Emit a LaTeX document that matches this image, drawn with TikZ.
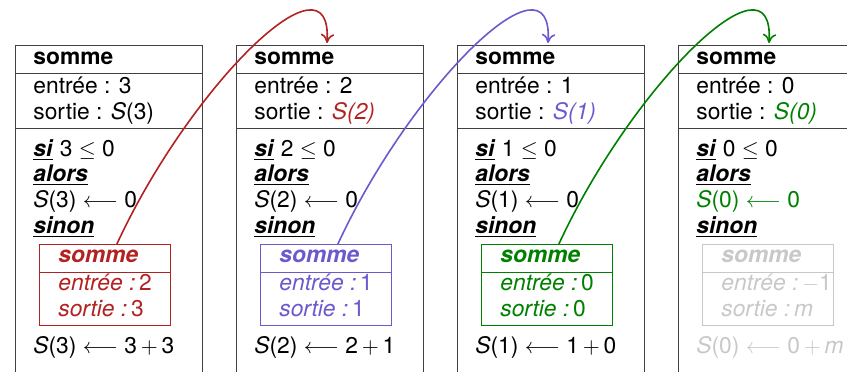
\documentclass[tikz,border=0pt]{standalone}
\usepackage{fontspec}
\setmainfont{TeX Gyre Heros}
\usetikzlibrary{arrows.meta}
\definecolor{appelA}{RGB}{178,34,34}
\definecolor{appelB}{RGB}{106,90,205}
\definecolor{appelC}{RGB}{0,128,0}
\definecolor{eteint}{RGB}{200,200,200}
\newcommand{\motcle}[1]{\underline{\textbf{\textit{#1}}}}
\tikzset{ligne/.style={anchor=base west,inner sep=0pt,font=\fontsize{11.4}{13}\selectfont},
 cadre/.style={draw=black!75,line width=0.5pt},
 appel/.style={-{To[length=1.6mm,width=2.4mm]},line width=0.8pt}}

\begin{document}
\begin{tikzpicture}[x=0.5pt,y=0.5pt]
 \useasboundingbox (0,0) rectangle (847,-371);
 \foreach \i/\n/\ns/\nr/\c/\so/\ca/\cf in {
   0/3/2/3/appelA/{\textit{S}(3)}/black/black,
   1/2/1/1/appelB/{\textcolor{appelA}{\textit{S(2)}}}/black/black,
   2/1/0/0/appelC/{\textcolor{appelB}{\textit{S(1)}}}/black/black,
   3/0/{$-$1}/{\textit{m}}/eteint/{\textcolor{appelC}{\textit{S(0)}}}/appelC/eteint}{
  % cadre de l'appel
  \draw[cadre] (15+221*\i,-380) -- (15+221*\i,-45) -- (202+221*\i,-45) -- (202+221*\i,-380);
  \node[cadre,anchor=north west,minimum width=93.5pt,minimum height=14pt,inner sep=0pt] (tete\i) at (15+221*\i,-45) {};
  \draw[cadre] (15+221*\i,-128) -- (202+221*\i,-128);
  \node[ligne] (nom\i) at (33+221*\i,-64) {\textbf{somme}};
  \node[ligne] (entree\i) at (33+221*\i,-93) {entrée : \n};
  \node[ligne] (sortie\i) at (33+221*\i,-119) {sortie : \so};
  \node[ligne] (si\i) at (33+221*\i,-156) {\motcle{si} \n\ $\leq$ 0};
  \node[ligne] (alors\i) at (33+221*\i,-181) {\motcle{alors}};
  \node[ligne,text=\ca] (cas\i) at (33+221*\i,-207) {\textit{S}(\n) $\longleftarrow$ 0};
  \node[ligne] (sinon\i) at (33+221*\i,-233) {\motcle{sinon}};
  % appel suivant
  \node[draw=\c,anchor=north west,minimum width=65.5pt,minimum height=40.5pt,inner sep=0pt] (sous\i) at (39+221*\i,-244) {};
  \draw[\c] (39+221*\i,-272) -- (170+221*\i,-272);
  \node[ligne,text=\c] (snom\i) at (58+221*\i,-262) {\textbf{\textit{somme}}};
  \node[ligne,text=\c] (sentree\i) at (58+221*\i,-290) {\textit{entrée :}\,\ns};
  \node[ligne,text=\c] (ssortie\i) at (58+221*\i,-316) {\textit{sortie :}\,\nr};
  \node[ligne,text=\cf] (fin\i) at (33+221*\i,-353) {\textit{S}(\n) $\longleftarrow$ \n\,$+$\,\nr};
 }
 \foreach \i/\j/\c in {0/1/appelA,1/2/appelB,2/3/appelC}
  \draw[appel,\c] ([xshift=6pt]sous\i.north) .. controls +(73,158) and +(6,98) .. ([xshift=-1.5pt,yshift=1pt]tete\j.north);
\end{tikzpicture}
\end{document}
